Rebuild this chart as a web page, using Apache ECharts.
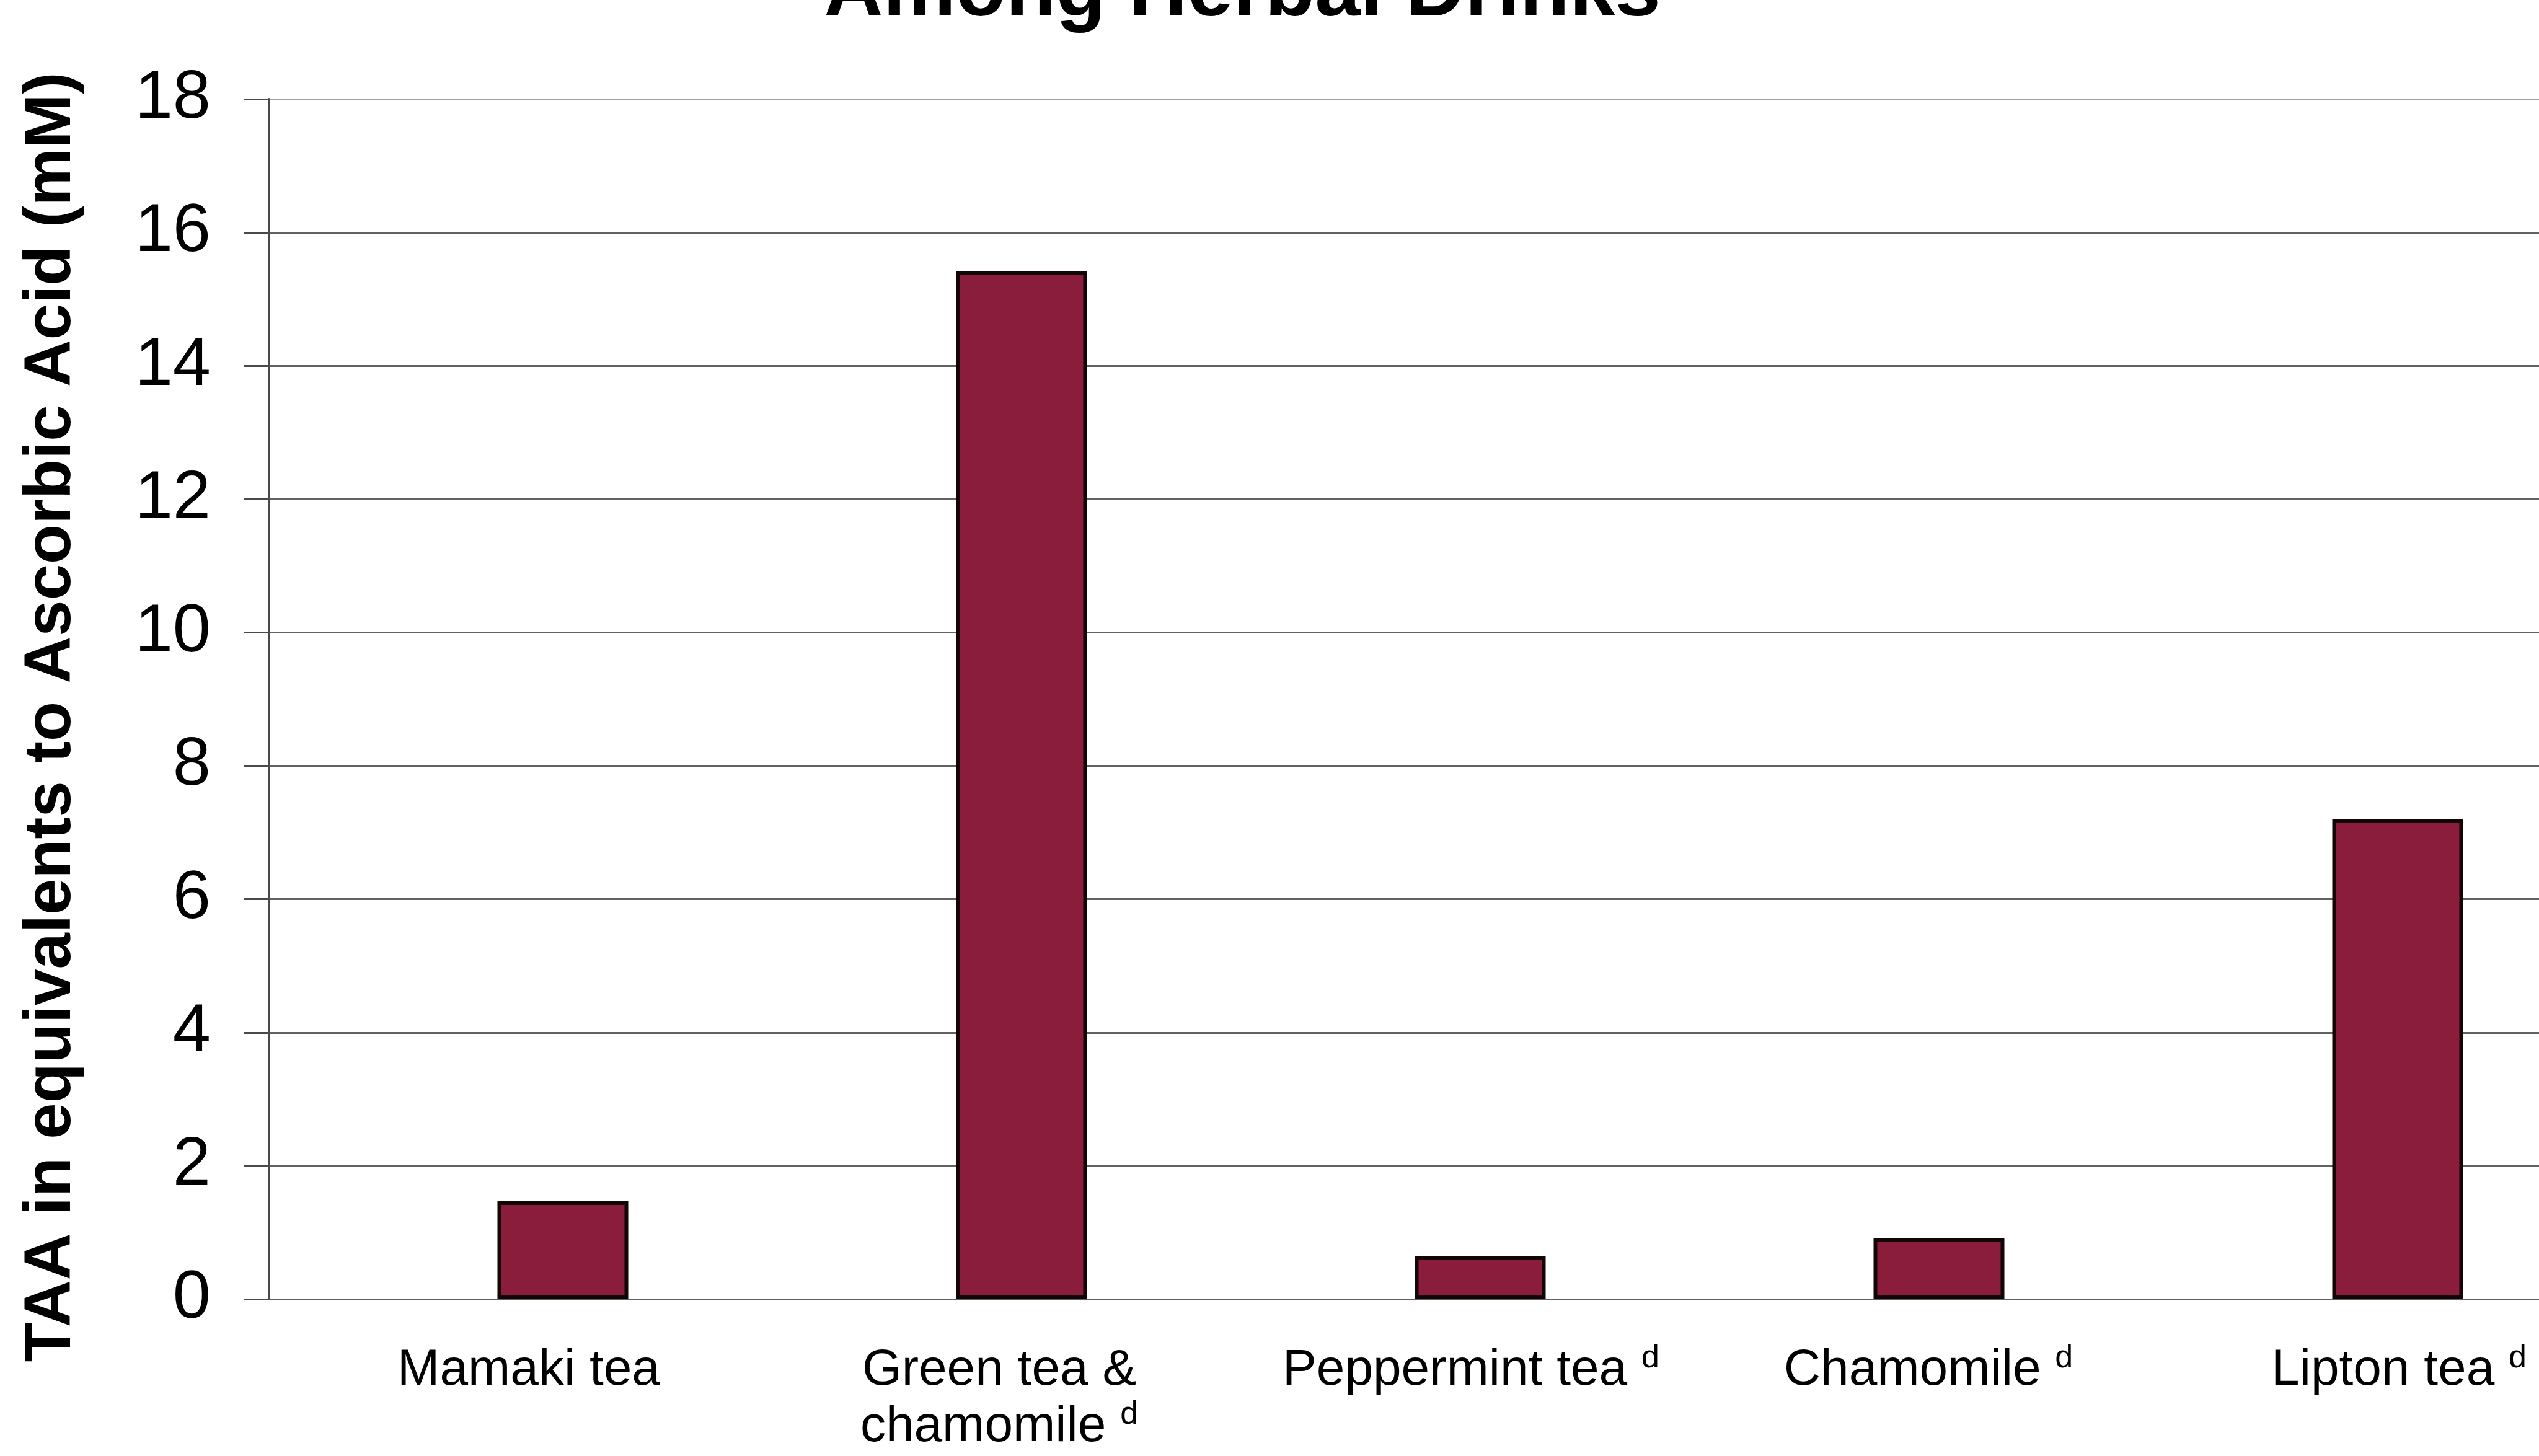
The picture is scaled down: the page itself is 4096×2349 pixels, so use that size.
<!DOCTYPE html>
<html>
<head>
<meta charset="utf-8">
<title>TAA Among Herbal Drinks</title>
<style>
  html, body { margin: 0; padding: 0; background: #ffffff; }
  #chart { width: 4096px; height: 2349px; }
</style>
<script src="https://cdn.jsdelivr.net/npm/echarts@6/dist/echarts.min.js"></script>
</head>
<body>
<div id="chart"></div>
<script>
// ---- data ----
const categories = ['Mamaki tea', 'Green tea &\nchamomile', 'Peppermint tea', 'Chamomile', 'Lipton tea'];
const footnotes = ['', 'd', 'd', 'd', 'd'];
const taaValues = [1.47, 15.42, 0.65, 0.92, 7.2];
const yMin = 0;
const yMax = 18;
const yStep = 2;
const titleText = 'Among Herbal Drinks';
const yAxisTitle = 'TAA in equivalents to Ascorbic Acid (mM)';

// ---- styling ----
const FONT = '"Liberation Sans", Arial, Helvetica, sans-serif';
const LABEL_SIZE = 82;
const LABEL_LINE = 91;
// horizontal nudge of each category label relative to its bar (px, negative = left)
const labelShift = [-55, -36, -15, -17, 2];

const rich = {
  n: { fontSize: LABEL_SIZE, lineHeight: LABEL_LINE, color: '#000', fontFamily: FONT },
  s: { fontSize: 52, lineHeight: 52, verticalAlign: 'top', color: '#000', fontFamily: FONT }
};
labelShift.forEach(function (d, i) {
  rich['p' + i] = { width: Math.abs(2 * d), fontSize: LABEL_SIZE, lineHeight: LABEL_LINE };
});

function categoryLabel(value, idx) {
  const lines = String(value).split('\n');
  const d = labelShift[idx] || 0;
  const spacer = '{p' + idx + '| }';
  return lines.map(function (line, k) {
    let s = '{n|' + line + '}';
    if (k === lines.length - 1 && footnotes[idx]) {
      s += '{n| }{s|' + footnotes[idx] + '}';
    }
    return d < 0 ? s + spacer : spacer + s;
  }).join('\n');
}

// grid-line colours: the top (maximum) line is lighter than the rest
const tickCount = Math.round((yMax - yMin) / yStep) + 1;
const splitColors = [];
for (let i = 0; i < tickCount; i++) {
  splitColors.push(i === tickCount - 1 ? '#a0a0a0' : '#626262');
}

const PLOT_TOP = 160;
const PLOT_BOTTOM = 253;

const chart = echarts.init(document.getElementById('chart'), null, { renderer: 'canvas' });

const option = {
  backgroundColor: '#ffffff',
  animation: false,
  graphic: [{
    type: 'text',
    x: 2004,
    y: 55,
    style: {
      text: titleText,
      fontSize: 132,
      fontWeight: 'bold',
      fontFamily: FONT,
      lineHeight: 132,
      fill: '#000',
      align: 'center',
      verticalAlign: 'bottom'
    }
  }],
  grid: [
    // frame carrying the value axis and its grid lines
    { left: 434, right: 0, top: PLOT_TOP, bottom: PLOT_BOTTOM, outerBoundsMode: 'none' },
    // category bands for the bars (runs past the right edge of the canvas)
    { left: 538, width: 3700, top: PLOT_TOP, bottom: PLOT_BOTTOM, outerBoundsMode: 'none' }
  ],
  xAxis: [
    { gridIndex: 0, type: 'category', data: [''], show: false },
    {
      gridIndex: 1,
      type: 'category',
      data: categories,
      axisLine: { show: false },
      axisTick: { show: false },
      splitLine: { show: false },
      axisLabel: {
        interval: 0,
        margin: 70,
        formatter: categoryLabel,
        rich: rich
      }
    }
  ],
  yAxis: [
    {
      gridIndex: 0,
      type: 'value',
      min: yMin,
      max: yMax,
      interval: yStep,
      axisLine: { show: true, lineStyle: { color: '#4a4a4a', width: 4 } },
      axisTick: { show: true, length: 40, lineStyle: { color: '#4a4a4a', width: 3 } },
      axisLabel: { fontSize: 110, color: '#000', margin: 94, fontFamily: FONT },
      splitLine: { show: true, lineStyle: { color: splitColors, width: 3 } },
      name: yAxisTitle,
      nameLocation: 'middle',
      nameGap: 297,
      nameTextStyle: {
        fontSize: 105,
        lineHeight: 105,
        fontWeight: 'bold',
        color: '#000',
        fontFamily: FONT,
        padding: [0, 58, 0, 0]
      }
    },
    {
      gridIndex: 1,
      type: 'value',
      min: yMin,
      max: yMax,
      interval: yStep,
      show: false,
      splitLine: { show: false }
    }
  ],
  series: [{
    type: 'bar',
    xAxisIndex: 1,
    yAxisIndex: 1,
    data: taaValues,
    barWidth: 211,
    itemStyle: { color: '#8a1c3c', borderColor: '#120505', borderWidth: 6 }
  }]
};

chart.setOption(option);
</script>
</body>
</html>
